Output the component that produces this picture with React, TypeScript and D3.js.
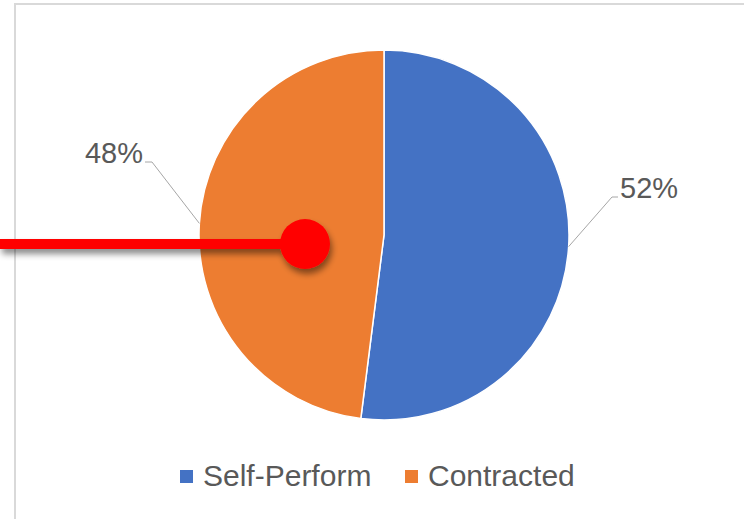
import React from "react";
import * as d3 from "d3";

// chart data
const categories = ["Self-Perform", "Contracted"];
const shares = [52, 48];
const colors = ["#4472C4", "#ED7D31"];

const W = 744;
const H = 519;

const App = () => {
  const cx = 384;
  const cy = 235;
  const radius = 185;

  const pie = d3.pie<number>().sort(null).value(d => d);
  const arcs = pie(shares);
  const arc = d3.arc<d3.PieArcDatum<number>>().innerRadius(0).outerRadius(radius);

  const pct = d3.format(".0%");
  const total = d3.sum(shares);

  // elbow of each leader line, relative to the pie centre
  const elbows: [number, number][] = [[228, -38], [-232, -73]];

  const legendColor = d3.scaleOrdinal<string, string>().domain(categories).range(colors);
  const legendX = d3.scalePoint<string>().domain(categories).range([180, 405]);

  return (
    <svg
      width={W}
      height={H}
      style={{ position: "fixed", left: 0, top: 0, background: "#fff" }}
      fontFamily="'Liberation Sans', Arial, sans-serif"
    >
      <defs>
        <filter id="shadow" x="-20%" y="-50%" width="140%" height="300%">
          <feDropShadow dx="2" dy="5" stdDeviation="3" floodColor="#000" floodOpacity="0.45" />
        </filter>
      </defs>

      {/* chart frame */}
      <path d={`M15,${H} V4 H${W}`} fill="none" stroke="#d9d9d9" strokeWidth={2} />

      <g transform={`translate(${cx},${cy})`}>
        {arcs.map((a, i) => (
          <path key={i} d={arc(a) || ""} fill={colors[i]} stroke="#fff" strokeWidth={1.5} />
        ))}

        {arcs.map((a, i) => {
          const mid = (a.startAngle + a.endAngle) / 2;
          const [px, py] = d3.pointRadial(mid, radius);
          const [ex, ey] = elbows[i];
          const right = ex > 0;
          const tx = ex + (right ? 6 : -7);
          return (
            <g key={"l" + i}>
              <polyline
                points={`${px},${py} ${ex},${ey} ${tx},${ey}`}
                fill="none"
                stroke="#a6a6a6"
                strokeWidth={1}
              />
              <text
                x={tx + (right ? 2 : -2)}
                y={ey + 1}
                textAnchor={right ? "start" : "end"}
                fontSize={29}
                fill="#595959"
              >
                {pct(shares[i] / total)}
              </text>
            </g>
          );
        })}
      </g>

      {/* legend */}
      {categories.map(c => (
        <g key={c} transform={`translate(${legendX(c)},470)`}>
          <rect width={13} height={13} fill={legendColor(c)} />
          <text x={23} y={16} fontSize={30} fill="#595959">
            {c}
          </text>
        </g>
      ))}

      {/* red pointer annotation */}
      <g filter="url(#shadow)">
        <line x1={0} y1={244} x2={300} y2={244} stroke="#ff0000" strokeWidth={10} />
        <circle cx={305} cy={244} r={25} fill="#ff0000" />
      </g>
    </svg>
  );
};

export default App;
